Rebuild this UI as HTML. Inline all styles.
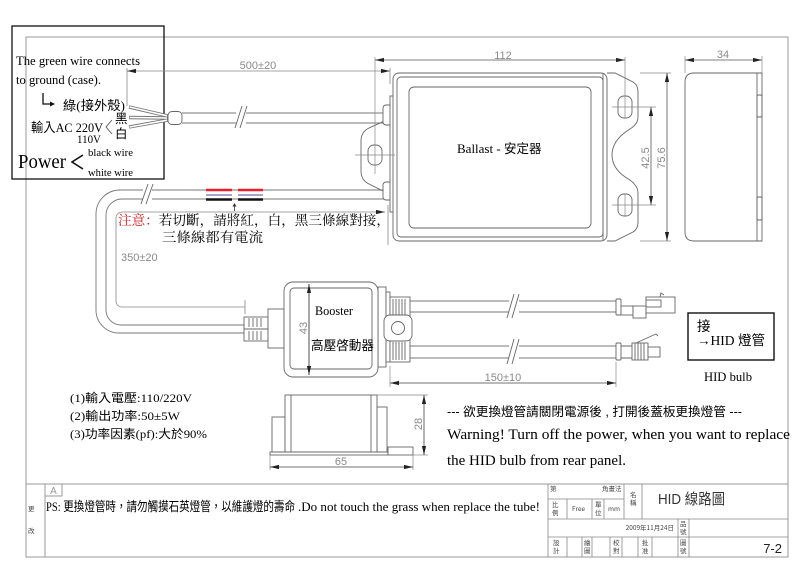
<!DOCTYPE html>
<html><head><meta charset="utf-8"><style>
html,body{margin:0;padding:0;background:#fff;}
svg{display:block;}
.s{font-family:"Liberation Serif","Noto Serif CJK SC",serif;}
.a{font-family:"Liberation Sans","Noto Sans CJK TC",sans-serif;}
.m{font-family:"Liberation Serif","Noto Sans CJK TC",serif;}
.d{font-family:"Liberation Sans",sans-serif;fill:#8a8a8a;font-size:11px;}
.t{font-family:"Noto Sans CJK TC",sans-serif;font-size:6.5px;fill:#444;}
</style></head><body>
<svg width="800" height="584" viewBox="0 0 800 584" xmlns="http://www.w3.org/2000/svg">
<defs>
<marker id="ar" markerWidth="10" markerHeight="6" refX="9" refY="3" orient="auto-start-reverse" markerUnits="userSpaceOnUse"><path d="M0,0.9 L9,3 L0,5.1 Z" fill="#222"/></marker>
</defs>
<rect width="800" height="584" fill="#fff"/>

<!-- frame -->
<g fill="none" stroke="#9a9a9a" stroke-width="1">
<rect x="26" y="37" width="762" height="520"/>
<line x1="26" y1="484" x2="788" y2="484"/>
<line x1="45" y1="484" x2="45" y2="557"/>
<rect x="45" y="484" width="17" height="12"/>
</g>

<!-- left black box -->
<rect x="12" y="26" width="152" height="153" fill="none" stroke="#111" stroke-width="1.3"/>
<text class="s" x="16" y="65" font-size="13" textLength="124" lengthAdjust="spacingAndGlyphs">The green wire connects</text>
<text class="s" x="16" y="84" font-size="13" textLength="85" lengthAdjust="spacingAndGlyphs">to ground (case).</text>
<path d="M43,93 V104 H52" fill="none" stroke="#111" stroke-width="1.3"/>
<path d="M55,104 L50,101.5 L50,106.5 Z" fill="#111"/>
<text class="m" x="63" y="110" font-size="13" textLength="62" lengthAdjust="spacingAndGlyphs">綠(接外殼)</text>
<text class="m" x="115" y="123" font-size="12.5">黑</text>
<text class="m" x="115" y="138" font-size="12.5">白</text>
<path d="M112,120 L106,127 L112,134" fill="none" stroke="#555" stroke-width="0.9"/>
<text class="m" x="31" y="132" font-size="13" textLength="72" lengthAdjust="spacingAndGlyphs">輸入AC 220V</text>
<text class="s" x="77" y="143" font-size="12" textLength="24" lengthAdjust="spacingAndGlyphs">110V</text>
<text class="s" x="18" y="168" font-size="20" textLength="48" lengthAdjust="spacingAndGlyphs">Power</text>
<path d="M83,155 L72,162 L83,169" fill="none" stroke="#111" stroke-width="1.6"/>
<text class="s" x="88" y="156" font-size="11" textLength="45" lengthAdjust="spacingAndGlyphs">black wire</text>
<text class="s" x="88" y="176" font-size="11" textLength="45" lengthAdjust="spacingAndGlyphs">white wire</text>

<!-- input wires -->
<g stroke-linecap="butt">
<line x1="129" y1="107" x2="168" y2="116" stroke="#777" stroke-width="3.4"/>
<line x1="129" y1="117.5" x2="168" y2="118" stroke="#777" stroke-width="3.4"/>
<line x1="129" y1="127" x2="168" y2="120" stroke="#777" stroke-width="3.4"/>
<line x1="129.6" y1="107" x2="167" y2="115.8" stroke="#fff" stroke-width="1.6"/>
<line x1="129.6" y1="117.5" x2="167" y2="118" stroke="#fff" stroke-width="1.6"/>
<line x1="129.6" y1="127" x2="167" y2="120.2" stroke="#fff" stroke-width="1.6"/>
</g>
<rect x="168" y="111.5" width="14" height="13" rx="4" fill="#fff" stroke="#666" stroke-width="0.9"/>
<g stroke="#777" stroke-width="0.9" fill="none">
<line x1="182" y1="113" x2="386" y2="113"/>
<line x1="182" y1="123" x2="386" y2="123"/>
</g>
<rect x="236" y="110" width="10" height="16" fill="#fff"/>
<g stroke="#666" stroke-width="0.9"><line x1="235" y1="128" x2="242" y2="106"/><line x1="240" y1="128" x2="247" y2="106"/></g>

<!-- dimension 500±20 -->
<g stroke="#888" stroke-width="0.8" fill="none">
<line x1="127" y1="68" x2="127" y2="106"/>
<line x1="390" y1="68" x2="390" y2="84"/>
<line x1="127" y1="71" x2="390" y2="71" marker-start="url(#ar)" marker-end="url(#ar)"/>
</g>
<text class="d" x="258" y="69" text-anchor="middle" font-size="11.5">500±20</text>

<!-- lower cable -->
<g fill="none" stroke="#777" stroke-width="0.9">
<path d="M387,190 H120 A24,24 0 0 0 96,214 V310 A23,23 0 0 0 119,333 H245"/>
<path d="M387,199 H122 A16,16 0 0 0 106,215 V310 A15,15 0 0 0 121,325 H245"/>
</g>
<g fill="none" stroke="#888" stroke-width="0.8">
<path d="M385,212 H122 A6,6 0 0 0 116,218 V301 A6,6 0 0 0 122,307 H245" marker-start="url(#ar)"/>
<line x1="245" y1="300" x2="245" y2="314"/>
<line x1="388" y1="205" x2="388" y2="245"/>
</g>
<rect x="143" y="186" width="9" height="16" fill="#fff"/>
<g stroke="#666" stroke-width="0.9"><line x1="141" y1="204" x2="148" y2="184"/><line x1="146" y1="204" x2="153" y2="184"/></g>
<!-- colored wire stripes -->
<g stroke-width="2.4">
<line x1="206" y1="190" x2="232" y2="190" stroke="#e8202a"/>
<line x1="238" y1="190" x2="263" y2="190" stroke="#e8202a"/>
<line x1="206" y1="195" x2="232" y2="195" stroke="#8a84c4" stroke-width="1.6"/>
<line x1="238" y1="195" x2="263" y2="195" stroke="#8a84c4" stroke-width="1.6"/>
<line x1="206" y1="199.5" x2="232" y2="199.5" stroke="#111"/>
<line x1="238" y1="199.5" x2="263" y2="199.5" stroke="#111"/>
</g>
<line x1="234.5" y1="204" x2="234.5" y2="211" stroke="#333" stroke-width="0.8"/>
<path d="M234.5,203 L232.5,206.5 L236.5,206.5 Z" fill="#333"/>
<text class="s" x="118" y="225" font-size="13.5" textLength="272" lengthAdjust="spacingAndGlyphs"><tspan fill="#e01818">注意：</tspan>若切斷，請將紅，白，黑三條線對接，</text>
<text class="s" x="162" y="242" font-size="13.5" textLength="101" lengthAdjust="spacingAndGlyphs">三條線都有電流</text>
<text class="d" x="121" y="261" font-size="12">350±20</text>

<!-- Ballast -->
<g fill="none" stroke="#666" stroke-width="0.9">
<path d="M391,118 L369,128 Q361,132 361,141 V171 Q361,180 369,184 L391,195"/>
<rect x="368" y="145" width="14" height="20" rx="6"/>
<rect x="383" y="105" width="9" height="20" rx="3" fill="#fff"/>
<rect x="383" y="182" width="9" height="18" rx="3" fill="#fff"/>
<rect x="390" y="96" width="10" height="116" fill="#fff"/>
<rect x="393" y="73" width="214" height="168" rx="6" fill="#fff"/>
<rect x="397" y="77" width="206" height="160" rx="4"/>
<rect x="409" y="87" width="182" height="141" rx="5"/>
<path d="M607,73 H615 L633,82 Q638,85 638,92 V117 Q638,124 630,129 Q612,140 612,155 Q612,170 630,180 Q638,186 638,193 V222 Q638,229 633,232 L615,241 H607"/>
<line x1="603" y1="73" x2="603" y2="241"/>
<rect x="618" y="96" width="14" height="22" rx="6"/>
<rect x="618" y="194" width="14" height="22" rx="6"/>
</g>
<g stroke="#888" stroke-width="0.7">
<line x1="355" y1="155" x2="395" y2="155"/>
<line x1="375" y1="57" x2="375" y2="174"/>
<line x1="612" y1="107" x2="656" y2="107"/>
<line x1="612" y1="205" x2="656" y2="205"/>
<line x1="625" y1="57" x2="625" y2="118"/>
<line x1="625" y1="194" x2="625" y2="216"/>
<line x1="640" y1="73" x2="671" y2="73"/>
<line x1="640" y1="241" x2="671" y2="241"/>
</g>
<g stroke="#555" stroke-width="0.8">
<line x1="375" y1="60" x2="625" y2="60" marker-start="url(#ar)" marker-end="url(#ar)"/>
<line x1="651" y1="107" x2="651" y2="205" marker-start="url(#ar)" marker-end="url(#ar)"/>
<line x1="667" y1="73" x2="667" y2="241" marker-start="url(#ar)" marker-end="url(#ar)"/>
</g>
<text class="d" x="503" y="59" text-anchor="middle">112</text>
<text class="d" transform="translate(649,158) rotate(-90)" text-anchor="middle">42.5</text>
<text class="d" transform="translate(665,158) rotate(-90)" text-anchor="middle">75.6</text>
<text class="s" x="457" y="153" font-size="13"><tspan>Ballast - </tspan><tspan font-family="Noto Sans CJK TC, sans-serif" font-size="12.5">安定器</tspan></text>

<!-- side view -->
<g fill="none" stroke="#666" stroke-width="0.9">
<path d="M694,73 H762 V241 H694 Q685,241 685,232 V82 Q685,73 694,73 Z"/>
<line x1="757" y1="73" x2="757" y2="241"/>
<rect x="757" y="95" width="5" height="22" rx="1.5"/>
<rect x="757" y="197" width="5" height="23" rx="1.5"/>
</g>
<g stroke="#888" stroke-width="0.7"><line x1="685" y1="56" x2="685" y2="73"/><line x1="762" y1="56" x2="762" y2="73"/></g>
<line x1="685" y1="60" x2="762" y2="60" stroke="#555" stroke-width="0.8" marker-start="url(#ar)" marker-end="url(#ar)"/>
<text class="d" x="723" y="58" text-anchor="middle">34</text>

<!-- Booster -->
<g fill="none" stroke="#666" stroke-width="0.9">
<rect x="244" y="317" width="24" height="24" fill="#fff"/>
<line x1="244" y1="329" x2="268" y2="329"/>
<path d="M249,318 V327 M253,318 V327 M257,318 V327 M261,318 V327 M249,331 V340 M253,331 V340 M257,331 V340 M261,331 V340"/>
<rect x="268" y="309" width="16" height="39" fill="#fff"/>
<rect x="378" y="287" width="8" height="80" fill="#fff"/>
<rect x="386" y="292" width="4" height="70" fill="#fff"/>
<rect x="390" y="297" width="20" height="21" fill="#fff"/>
<rect x="390" y="340" width="20" height="22" fill="#fff"/>
<path d="M393,299 V316 M396,299 V316 M399,299 V316 M402,299 V316 M405,299 V316 M393,342 V360 M396,342 V360 M399,342 V360 M402,342 V360 M405,342 V360"/>
<rect x="384" y="315" width="28" height="26" rx="6" fill="#fff"/>
<circle cx="398" cy="328" r="6.5"/>
<rect x="284" y="282" width="94" height="95" rx="9" fill="#fff"/>
<rect x="290" y="288" width="82" height="81" rx="4"/>
</g>
<line x1="309" y1="284" x2="309" y2="375" stroke="#222" stroke-width="0.8" marker-start="url(#ar)" marker-end="url(#ar)"/>
<text class="d" transform="translate(307,328) rotate(-90)" text-anchor="middle">43</text>
<text class="s" x="315" y="315" font-size="12.5" textLength="38" lengthAdjust="spacingAndGlyphs">Booster</text>
<text class="a" x="311" y="350" font-size="13" textLength="63" lengthAdjust="spacingAndGlyphs">高壓啓動器</text>

<!-- output wires -->
<g fill="none" stroke="#777" stroke-width="0.9">
<line x1="410" y1="301" x2="616" y2="301"/>
<line x1="410" y1="312" x2="616" y2="312"/>
<line x1="410" y1="346" x2="616" y2="346"/>
<line x1="410" y1="358" x2="616" y2="358"/>
</g>
<rect x="509" y="298" width="10" height="17" fill="#fff"/>
<rect x="509" y="343" width="10" height="18" fill="#fff"/>
<g stroke="#666" stroke-width="0.9">
<line x1="507" y1="318" x2="514" y2="294"/><line x1="512" y1="318" x2="519" y2="294"/>
<line x1="507" y1="364" x2="514" y2="339"/><line x1="512" y1="364" x2="519" y2="339"/>
</g>
<g fill="#fff" stroke="#666" stroke-width="0.9">
<rect x="616" y="299" width="5" height="16" rx="1"/>
<rect x="621" y="306" width="12" height="9"/>
<rect x="633" y="306" width="13" height="12"/>
<rect x="646" y="297" width="29" height="16"/>
<rect x="646" y="300" width="15" height="7"/>
<path d="M660,297 L661,293 L664,295" fill="none"/>
<rect x="616" y="343" width="5" height="17" rx="1"/>
<path d="M621,346 H632 M621,358 H632" fill="none"/>
<rect x="632" y="343" width="16" height="17"/>
<path d="M635,343 V360 M638,343 V360 M641,343 V360 M644,343 V360" fill="none"/>
<rect x="648" y="347" width="12" height="10"/>
<path d="M636,343 L656,334 L658,336" fill="none"/>
</g>
<g stroke="#888" stroke-width="0.7"><line x1="390" y1="366" x2="390" y2="387"/><line x1="616" y1="362" x2="616" y2="387"/></g>
<line x1="390" y1="383" x2="616" y2="383" stroke="#444" stroke-width="0.8" marker-start="url(#ar)" marker-end="url(#ar)"/>
<text class="d" x="503" y="381" text-anchor="middle">150±10</text>

<!-- HID box -->
<rect x="688" y="313" width="86" height="47" fill="none" stroke="#111" stroke-width="1.4"/>
<text class="m" x="697" y="331" font-size="13.5">接</text>
<text class="m" x="697" y="345" font-size="13.5" textLength="68" lengthAdjust="spacingAndGlyphs">→HID 燈管</text>
<text class="s" x="704" y="381" font-size="13" textLength="48" lengthAdjust="spacingAndGlyphs">HID bulb</text>

<!-- specs -->
<text class="m" x="70" y="402" font-size="12" textLength="122" lengthAdjust="spacingAndGlyphs">(1)輸入電壓:110/220V</text>
<text class="m" x="70" y="420" font-size="12" textLength="110" lengthAdjust="spacingAndGlyphs">(2)輸出功率:50±5W</text>
<text class="m" x="70" y="438" font-size="12" textLength="137" lengthAdjust="spacingAndGlyphs">(3)功率因素(pf):大於90%</text>

<!-- small view -->
<g fill="none" stroke="#666" stroke-width="0.9">
<rect x="272" y="417" width="13" height="35"/>
<rect x="377" y="407" width="10" height="45"/>
<rect x="285" y="395" width="92" height="57" fill="#fff"/>
<line x1="291" y1="395" x2="291" y2="452"/>
<line x1="371" y1="395" x2="371" y2="452"/>
<rect x="270" y="452" width="118" height="3"/>
<rect x="388" y="447" width="25" height="8"/>
</g>
<g stroke="#888" stroke-width="0.7"><line x1="377" y1="395" x2="428" y2="395"/><line x1="413" y1="455" x2="428" y2="455"/><line x1="270" y1="455" x2="270" y2="470"/><line x1="413" y1="455" x2="413" y2="470"/></g>
<line x1="424" y1="395" x2="424" y2="455" stroke="#444" stroke-width="0.8" marker-start="url(#ar)" marker-end="url(#ar)"/>
<line x1="270" y1="467" x2="413" y2="467" stroke="#444" stroke-width="0.8" marker-start="url(#ar)" marker-end="url(#ar)"/>
<text class="d" transform="translate(422,424) rotate(-90)" text-anchor="middle">28</text>
<text class="d" x="341" y="465" text-anchor="middle">65</text>

<!-- warning -->
<text class="a" x="447" y="416" font-size="12.5" textLength="295" lengthAdjust="spacingAndGlyphs">--- 欲更換燈管請關閉電源後 , 打開後蓋板更換燈管 ---</text>
<text class="s" x="447" y="439" font-size="15" textLength="343" lengthAdjust="spacingAndGlyphs">Warning! Turn off the power, when you want to replace</text>
<text class="s" x="447" y="465" font-size="15" textLength="179" lengthAdjust="spacingAndGlyphs">the HID bulb from rear panel.</text>

<!-- title block -->
<text class="a" x="53.5" y="494" font-size="10" fill="#999" text-anchor="middle">A</text>
<text class="t" x="28" y="511">更</text>
<text class="t" x="28" y="533">改</text>
<text class="m" x="46" y="511" font-size="13" textLength="249" lengthAdjust="spacingAndGlyphs">PS: 更換燈管時，請勿觸摸石英燈管，以維護燈的壽命</text>
<text class="s" x="298" y="511" font-size="13" textLength="242" lengthAdjust="spacingAndGlyphs">.Do not touch the grass when replace the tube!</text>

<g stroke="#888" stroke-width="0.8" fill="none">
<line x1="548" y1="484" x2="548" y2="557"/>
<line x1="548" y1="499" x2="624" y2="499"/>
<line x1="548" y1="519" x2="788" y2="519"/>
<line x1="548" y1="537" x2="788" y2="537"/>
<line x1="567" y1="499" x2="567" y2="519"/>
<line x1="592" y1="499" x2="592" y2="519"/>
<line x1="604" y1="499" x2="604" y2="519"/>
<line x1="624" y1="484" x2="624" y2="519"/>
<line x1="642" y1="484" x2="642" y2="519"/>
<line x1="567" y1="537" x2="567" y2="557"/>
<line x1="582" y1="537" x2="582" y2="557"/>
<line x1="592" y1="537" x2="592" y2="557"/>
<line x1="610" y1="537" x2="610" y2="557"/>
<line x1="622" y1="537" x2="622" y2="557"/>
<line x1="638" y1="537" x2="638" y2="557"/>
<line x1="652" y1="537" x2="652" y2="557"/>
<line x1="678" y1="519" x2="678" y2="557"/>
<line x1="689" y1="519" x2="689" y2="557"/>
</g>
<text class="t" x="550" y="491">第</text>
<text class="t" x="602" y="491">角畫法</text>
<text class="t" x="552" y="507">比</text><text class="t" x="552" y="515">例</text>
<text class="t" x="572" y="511" font-size="5.5">Free</text>
<text class="t" x="595" y="507">單</text><text class="t" x="595" y="515">位</text>
<text class="t" x="608" y="511" font-size="5.5">mm</text>
<text class="t" x="630" y="497">名</text><text class="t" x="630" y="505">稱</text>
<text class="a" x="658" y="504" font-size="15" fill="#333" textLength="67" lengthAdjust="spacingAndGlyphs">HID 線路圖</text>
<text class="t" x="674" y="530" text-anchor="end" font-size="6">2009年11月24日</text>
<text class="t" x="680" y="526">品</text><text class="t" x="680" y="534">號</text>
<text class="t" x="680" y="545">圖</text><text class="t" x="680" y="553">號</text>
<text class="t" x="553" y="545">設</text><text class="t" x="553" y="553">計</text>
<text class="t" x="584" y="545">繪</text><text class="t" x="584" y="553">圖</text>
<text class="t" x="613" y="545">校</text><text class="t" x="613" y="553">對</text>
<text class="t" x="642" y="545">批</text><text class="t" x="642" y="553">准</text>
<text class="a" x="782" y="553" font-size="13" text-anchor="end" fill="#222">7-2</text>
</svg>
</body></html>
